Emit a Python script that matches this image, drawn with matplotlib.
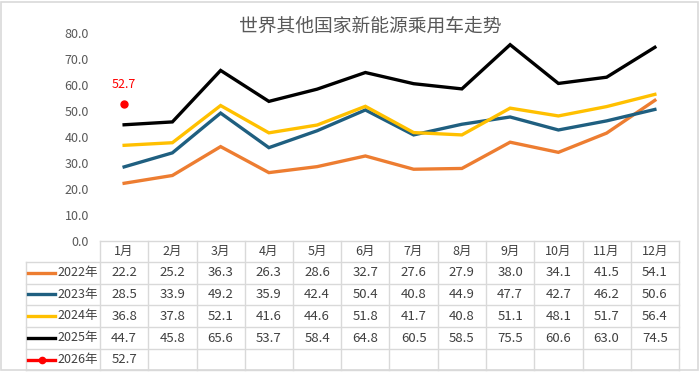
import matplotlib.pyplot as plt
from matplotlib.patches import Rectangle
from matplotlib.lines import Line2D

plt.rcParams['font.family'] = ['Noto Sans CJK SC', 'DejaVu Sans']

months = ['1月', '2月', '3月', '4月', '5月', '6月', '7月', '8月', '9月', '10月', '11月', '12月']
years = ['2022年', '2023年', '2024年', '2025年', '2026年']
v2022 = [22.2, 25.2, 36.3, 26.3, 28.6, 32.7, 27.6, 27.9, 38.0, 34.1, 41.5, 54.1]
v2023 = [28.5, 33.9, 49.2, 35.9, 42.4, 50.4, 40.8, 44.9, 47.7, 42.7, 46.2, 50.6]
v2024 = [36.8, 37.8, 52.1, 41.6, 44.6, 51.8, 41.7, 40.8, 51.1, 48.1, 51.7, 56.4]
v2025 = [44.7, 45.8, 65.6, 53.7, 58.4, 64.8, 60.5, 58.5, 75.5, 60.6, 63.0, 74.5]
v2026 = [52.7]
series = [v2022, v2023, v2024, v2025, v2026]
colors = ['#ED7D31', '#1F5F80', '#FFC000', '#000000', '#FF0000']

W, H = 700, 372
fig = plt.figure(figsize=(7, 3.72), dpi=100)

def fx(px):
    return px / W

def fy(py):
    return 1 - py / H

x0, x1, ytop, ybot = 100, 679, 33, 241
ax = fig.add_axes([fx(x0), fy(ybot), fx(x1) - fx(x0), fy(ytop) - fy(ybot)])
ax.set_xlim(-0.5, 11.5)
ax.set_ylim(0, 80)
for s in ax.spines.values():
    s.set_visible(False)
ax.set_xticks([])
ax.set_yticks(range(0, 81, 10))
ax.set_yticklabels(['%.1f' % v for v in range(0, 81, 10)])
ax.tick_params(axis='y', length=0, pad=8, labelsize=9, labelcolor='#595959')

for vals, c in zip(series[:4], colors[:4]):
    ax.plot(range(len(vals)), vals, color=c, lw=2.4, solid_joinstyle='miter')
ax.plot(range(len(v2026)), v2026, 'o', color=colors[4], ms=5)
ax.annotate('%.1f' % v2026[0], (0, v2026[0]), xytext=(0, 9), textcoords='offset points',
            ha='center', va='bottom', color='#FF0000', fontsize=9)

fig.text(fx(370), fy(26), '世界其他国家新能源乘用车走势', ha='center', va='center',
         fontsize=13.5, color='#595959', fontweight='medium')

# data table
grid = '#D9D9D9'
tc = '#404040'
colw = (x1 - x0) / 12
row_edges = [241, 262, 283.5, 305, 327, 349, 370]
lbl_left = 26

def hline(y, xa, xb):
    fig.add_artist(Line2D([fx(xa), fx(xb)], [fy(y), fy(y)], color=grid, lw=1))

def vline(x, ya, yb):
    fig.add_artist(Line2D([fx(x), fx(x)], [fy(ya), fy(yb)], color=grid, lw=1))

hline(row_edges[0], x0, x1)
for y in row_edges[1:]:
    hline(y, lbl_left, x1)
vline(lbl_left, row_edges[1], row_edges[-1])
for i in range(13):
    vline(x0 + i * colw, row_edges[0], row_edges[-1])

ym = (row_edges[0] + row_edges[1]) / 2
for i, m in enumerate(months):
    fig.text(fx(x0 + (i + 0.5) * colw), fy(ym), m, ha='center', va='center',
             fontsize=9, color=tc)

for r, (yr, vals, c) in enumerate(zip(years, series, colors)):
    ym = (row_edges[r + 1] + row_edges[r + 2]) / 2
    fig.add_artist(Line2D([fx(28), fx(55)], [fy(ym), fy(ym)], color=c, lw=2.4))
    if yr == '2026年':
        fig.add_artist(Line2D([fx(41.5)], [fy(ym)], marker='o', color=c, ms=4.5))
    fig.text(fx(57), fy(ym), yr, ha='left', va='center', fontsize=9, color=tc)
    for i, v in enumerate(vals):
        fig.text(fx(x0 + (i + 0.5) * colw), fy(ym), '%.1f' % v, ha='center',
                 va='center', fontsize=9.5, color=tc)

fig.add_artist(Rectangle((fx(1), fy(370)), fx(697), fy(2) - fy(370), fill=False,
                         edgecolor=grid, lw=1.2, transform=fig.transFigure))

fig.savefig('out.png', dpi=100, facecolor='white')
